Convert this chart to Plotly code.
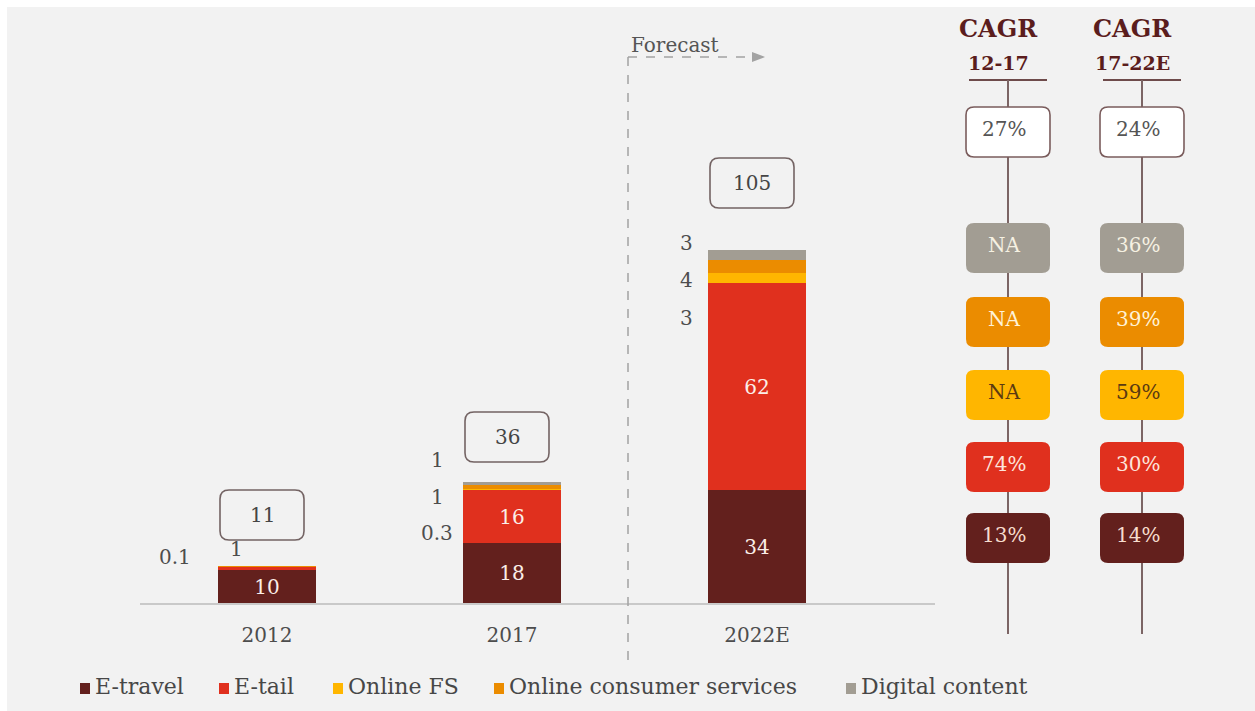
import plotly.graph_objects as go

# ---------------------------------------------------------------- data
years = ["2012", "2017", "2022E"]
e_travel = [10, 18, 34]
e_tail = [1, 16, 62]
online_fs = [0, 0.3, 3]
online_consumer = [0.1, 1, 4]
digital_content = [0, 1, 3]
totals = [11, 36, 105]

cagr_rows = ["Total", "Digital content", "Online consumer services",
             "Online FS", "E-tail", "E-travel"]
cagr_12_17 = ["27%", "NA", "NA", "NA", "74%", "13%"]
cagr_17_22 = ["24%", "36%", "39%", "59%", "30%", "14%"]

legend_names = ["E-travel", "E-tail", "Online FS",
                "Online consumer services", "Digital content"]

# ---------------------------------------------------------------- style
W, H = 1255, 711
BG = "#f2f2f2"
C_TRAVEL = "#63201d"
C_TAIL = "#e0301e"
C_FS = "#ffb600"
C_OCS = "#eb8c00"
C_DC = "#a29d93"
SERIF = "DejaVu Serif"
TXT = "#4d4d4d"

PX_PER_UNIT = 3.33
BASE_PX = 603          # baseline of the bars
BAR_X0_PX = 267        # centre of first bar
BAR_STEP_PX = 245      # distance between bars


def fx(x):
    return x / W


def fy(y):
    return 1 - y / H


def rrect(x0, y0, x1, y1, r):
    return (f"M{fx(x0 + r)},{fy(y0)} L{fx(x1 - r)},{fy(y0)} "
            f"Q{fx(x1)},{fy(y0)} {fx(x1)},{fy(y0 + r)} "
            f"L{fx(x1)},{fy(y1 - r)} Q{fx(x1)},{fy(y1)} {fx(x1 - r)},{fy(y1)} "
            f"L{fx(x0 + r)},{fy(y1)} Q{fx(x0)},{fy(y1)} {fx(x0)},{fy(y1 - r)} "
            f"L{fx(x0)},{fy(y0 + r)} Q{fx(x0)},{fy(y0)} {fx(x0 + r)},{fy(y0)} Z")


def fmt(v):
    return f"{v:g}"


def label(x, y, text, size, color, family=SERIF, xanchor="center"):
    return dict(xref="paper", yref="paper", x=fx(x), y=fy(y), text=text,
                xanchor=xanchor, yanchor="middle", showarrow=False,
                font=dict(family=family, size=size, color=color))


fig = go.Figure()

xs = list(range(len(years)))
series = [
    ("E-travel", e_travel, C_TRAVEL),
    ("E-tail", e_tail, C_TAIL),
    ("Online FS", online_fs, C_FS),
    ("Online consumer services", online_consumer, C_OCS),
    ("Digital content", digital_content, C_DC),
]
for name, vals, col in series:
    inside = [fmt(v) if v >= 5 else "" for v in vals] if name in ("E-travel", "E-tail") else None
    fig.add_trace(go.Bar(
        x=xs, y=vals, name=name, width=0.4,
        marker=dict(color=col, line=dict(width=0)),
        text=inside, textposition="inside", insidetextanchor="middle",
        textfont=dict(family=SERIF, size=20, color="#fbeee8"),
        textangle=0, showlegend=False, hoverinfo="skip",
    ))

# axes: bar area from x=140..935 px, baseline at 603 px
x_lo = -(BAR_X0_PX - 140) / BAR_STEP_PX
x_hi = x_lo + (935 - 140) / BAR_STEP_PX
fig.update_layout(
    width=W, height=H, margin=dict(l=0, r=0, t=0, b=0),
    paper_bgcolor="white", plot_bgcolor="rgba(0,0,0,0)",
    barmode="stack", bargap=0,
    xaxis=dict(domain=[140 / W, 935 / W], range=[x_lo, x_hi], tickvals=xs, ticktext=years,
               showline=True, linecolor="#c9c9c9", linewidth=2, showgrid=False,
               zeroline=False, ticks="outside", ticklen=13, tickcolor="rgba(0,0,0,0)",
               tickfont=dict(family=SERIF, size=20, color=TXT), fixedrange=True),
    yaxis=dict(domain=[(H - BASE_PX) / H, 1], range=[0, BASE_PX / PX_PER_UNIT],
               visible=False, fixedrange=True),
)

shapes = []
annotations = []
# panel background
shapes.append(dict(type="rect", xref="paper", yref="paper", x0=fx(7), x1=1, y0=0, y1=fy(7),
                   fillcolor=BG, line=dict(width=0), layer="below"))

# total boxes above each bar
box_centre_y = [515, 437, 183]
for i, t in enumerate(totals):
    cx = BAR_X0_PX + i * BAR_STEP_PX - 5
    cy = box_centre_y[i]
    shapes.append(dict(type="path", xref="paper", yref="paper",
                       path=rrect(cx - 42, cy - 25, cx + 42, cy + 25, 9),
                       line=dict(color="#736363", width=1.6), fillcolor="rgba(0,0,0,0)"))
    annotations.append(label(cx, cy, fmt(t), 20, "#454545"))

# small-segment value labels beside bars
side_labels = [
    (fmt(online_consumer[0]), 175, 557),
    (fmt(e_tail[0]), 236, 549),
    (fmt(online_fs[1]), 437, 533),
    (fmt(online_consumer[1]), 437, 497),
    (fmt(digital_content[1]), 437, 460),
    (fmt(online_fs[2]), 686, 318),
    (fmt(online_consumer[2]), 686, 280),
    (fmt(digital_content[2]), 686, 243),
]
for txt, x, y in side_labels:
    annotations.append(label(x, y, txt, 20, TXT))

# forecast divider
DASH = "#a3a3a3"
shapes.append(dict(type="line", xref="paper", yref="paper", x0=fx(628), x1=fx(628),
                   y0=fy(57), y1=fy(660), line=dict(color=DASH, width=1.5, dash="dash")))
shapes.append(dict(type="line", xref="paper", yref="paper", x0=fx(628), x1=fx(753),
                   y0=fy(57), y1=fy(57), line=dict(color=DASH, width=1.5, dash="dash")))
shapes.append(dict(type="path", xref="paper", yref="paper",
                   path=f"M{fx(752)},{fy(52)} L{fx(765)},{fy(57)} L{fx(752)},{fy(62)} Z",
                   fillcolor=DASH, line=dict(width=0)))
annotations.append(label(629, 45, "Forecast", 20, "#555555", xanchor="left"))

# CAGR columns
HEAD = "#5b1d1d"
STEM = "#7c6565"
col_x = [1008, 1142]
col_sub = ["12-17", "17-22E"]
col_vals = [cagr_12_17, cagr_17_22]
row_y = [132, 248, 322, 395, 467, 538]
row_fill = ["white", C_DC, C_OCS, C_FS, C_TAIL, C_TRAVEL]
row_txt = ["#555555", "#f6f1e2", "#fff2d6", "#5b3a12", "#fde4dc", "#f6dccd"]
for cx, sub, vals in zip(col_x, col_sub, col_vals):
    annotations.append(label(cx - 10, 29, "<b>CAGR</b>", 24, HEAD))
    annotations.append(label(cx - 10, 63, f"<b>{sub}</b>", 19, HEAD))
    shapes.append(dict(type="line", xref="paper", yref="paper", x0=fx(cx - 39), x1=fx(cx + 39),
                       y0=fy(80), y1=fy(80), line=dict(color="#6e4b4b", width=2)))
    shapes.append(dict(type="line", xref="paper", yref="paper", x0=fx(cx), x1=fx(cx),
                       y0=fy(80), y1=fy(634), line=dict(color=STEM, width=2)))
    for v, ry, fill, tc in zip(vals, row_y, row_fill, row_txt):
        border = dict(color="#7a5c5c", width=1.6) if fill == "white" else dict(width=0)
        shapes.append(dict(type="path", xref="paper", yref="paper",
                           path=rrect(cx - 42, ry - 25, cx + 42, ry + 25, 8),
                           fillcolor=fill, line=border))
        annotations.append(label(cx - 4, ry - 3, v, 20, tc))

# legend row
legend_x = [80, 219, 333, 494, 846]
legend_cols = [C_TRAVEL, C_TAIL, C_FS, C_OCS, C_DC]
for name, lx, col in zip(legend_names, legend_x, legend_cols):
    shapes.append(dict(type="rect", xref="paper", yref="paper", x0=fx(lx), x1=fx(lx + 10),
                       y0=fy(694), y1=fy(683), fillcolor=col, line=dict(width=0)))
    annotations.append(label(lx + 13, 686, name, 22, "#474747", xanchor="left"))

fig.update_layout(shapes=shapes, annotations=annotations)
fig.write_html("out.html")
